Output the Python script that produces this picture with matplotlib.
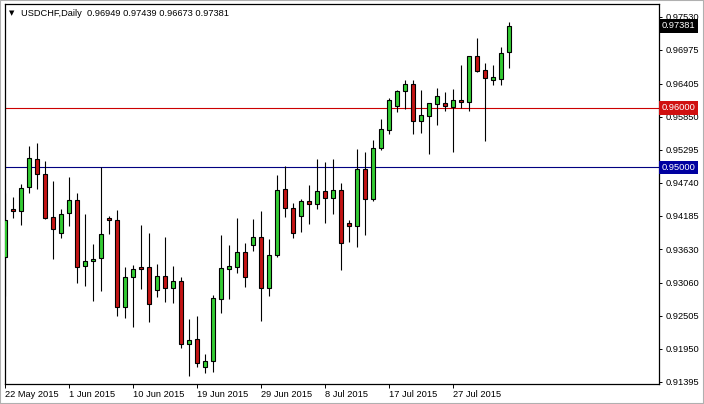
import matplotlib
matplotlib.use("Agg")
import matplotlib.pyplot as plt
from matplotlib.patches import Rectangle
import matplotlib.transforms as mtransforms

plt.rcParams['font.family'] = ['Liberation Sans', 'DejaVu Sans']

symbol = "USDCHF,Daily"

opens = [0.93496, 0.94302, 0.94269, 0.94672, 0.95143, 0.94891, 0.94168, 0.93899, 0.94235, 0.94454,
         0.93344, 0.93429, 0.93479, 0.94151, 0.94118, 0.92655, 0.93160, 0.93320, 0.93328, 0.92941,
         0.93176, 0.92975, 0.93092, 0.92034, 0.92118, 0.91647, 0.91748, 0.92790, 0.93294, 0.93328,
         0.93580, 0.93697, 0.93832, 0.92975, 0.93529, 0.94639, 0.94319, 0.94185, 0.94437, 0.94387,
         0.94605, 0.94487, 0.94622, 0.94067, 0.94017, 0.94975, 0.94471, 0.95328, 0.95630, 0.96034,
         0.96286, 0.96403, 0.95782, 0.95866, 0.96067, 0.96084, 0.96017, 0.96134, 0.96101, 0.96874,
         0.96639, 0.96471, 0.96487, 0.96949]

highs = [0.94571, 0.94504, 0.94723, 0.95361, 0.95412, 0.95109, 0.94773, 0.94302, 0.94840, 0.94571,
         0.94218, 0.93714, 0.95000, 0.94185, 0.94286, 0.93328, 0.93361, 0.94034, 0.93899, 0.93378,
         0.93832, 0.93344, 0.93160, 0.92454, 0.92504, 0.91865, 0.92857, 0.93866, 0.93697, 0.94151,
         0.93731, 0.94134, 0.94269, 0.93798, 0.94874, 0.95025, 0.94403, 0.94471, 0.94706, 0.95143,
         0.95092, 0.95143, 0.94739, 0.94118, 0.95311, 0.95260, 0.95462, 0.95815, 0.96168, 0.96303,
         0.96471, 0.96471, 0.96303, 0.96084, 0.96336, 0.96269, 0.96319, 0.96723, 0.96874, 0.97176,
         0.96756, 0.96723, 0.97025, 0.97439]

lows = [0.92840, 0.94151, 0.94034, 0.94571, 0.94639, 0.94134, 0.93462, 0.93815, 0.94017, 0.93059,
        0.93008, 0.92756, 0.92924, 0.93882, 0.92504, 0.92471, 0.92319, 0.92958, 0.92403, 0.92823,
        0.92739, 0.92723, 0.91966, 0.91496, 0.91647, 0.91546, 0.91563, 0.92555, 0.92790, 0.93227,
        0.92992, 0.93597, 0.92420, 0.92840, 0.93496, 0.94168, 0.93815, 0.93916, 0.94050, 0.94302,
        0.94067, 0.94218, 0.93277, 0.93748, 0.93664, 0.93866, 0.94437, 0.95294, 0.95563, 0.95933,
        0.95983, 0.95563, 0.95580, 0.95227, 0.95714, 0.95950, 0.95260, 0.96000, 0.95950, 0.96605,
        0.95445, 0.96387, 0.96387, 0.96673]

closes = [0.94118, 0.94269, 0.94655, 0.95160, 0.94891, 0.94151, 0.93966, 0.94218, 0.94454, 0.93328,
          0.93429, 0.93462, 0.93882, 0.94118, 0.92655, 0.93160, 0.93294, 0.93300, 0.92706, 0.93176,
          0.92975, 0.93092, 0.92034, 0.92101, 0.91714, 0.91748, 0.92807, 0.93311, 0.93344, 0.93580,
          0.93160, 0.93832, 0.92975, 0.93529, 0.94622, 0.94319, 0.93899, 0.94437, 0.94387, 0.94605,
          0.94487, 0.94622, 0.93731, 0.94017, 0.94975, 0.94471, 0.95328, 0.95647, 0.96134, 0.96286,
          0.96403, 0.95782, 0.95882, 0.96084, 0.96202, 0.96034, 0.96134, 0.96101, 0.96874, 0.96622,
          0.96504, 0.96521, 0.96924, 0.97381]

date_ticks = [0, 8, 16, 24, 32, 40, 48, 56]
date_labels = ["22 May 2015", "1 Jun 2015", "10 Jun 2015", "19 Jun 2015",
               "29 Jun 2015", "8 Jul 2015", "17 Jul 2015", "27 Jul 2015"]

price_ticks = [0.97530, 0.96975, 0.96405, 0.95850, 0.95295, 0.94740,
               0.94185, 0.93630, 0.93060, 0.92505, 0.91950, 0.91395]

level_red = 0.96000
level_blue = 0.95000

GREEN = "#33cc33"
RED = "#c41414"
FS = 6.7

fig = plt.figure(figsize=(7.04, 4.04), dpi=100)
fig.patch.set_facecolor("white")
ax = fig.add_axes([4.5 / 704, 20 / 404, 654.5 / 704, 380 / 404])

xs = list(range(len(opens)))

# wicks
ax.vlines(xs, lows, highs, colors="black", linewidth=0.8, zorder=3)

# bodies
for i in xs:
    o, c = opens[i], closes[i]
    col = GREEN if c >= o else RED
    bottom = min(o, c)
    h = max(abs(c - o), 0.00006)
    ax.bar(i, h, bottom=bottom, width=0.62, color=col, edgecolor="black",
           linewidth=0.8, zorder=4)

# horizontal levels
ax.axhline(level_red, color="#cc0000", linewidth=0.8, zorder=2)
ax.axhline(level_blue, color="#000080", linewidth=0.8, zorder=2)

ax.set_xlim(-0.06, 81.75)
ax.set_ylim(0.91361, 0.97748)

ax.yaxis.tick_right()
ax.set_yticks(price_ticks)
ax.set_yticklabels(["%.5f" % p for p in price_ticks])
ax.tick_params(axis="y", length=2.5, width=0.7, pad=2, labelsize=FS, colors="black")

ax.set_xticks(date_ticks)
ax.set_xticklabels(date_labels, ha="left")
ax.tick_params(axis="x", length=3, width=0.7, pad=1.5, labelsize=FS, colors="black")

for s in ax.spines.values():
    s.set_color("black")
    s.set_linewidth(0.9)

# price boxes on the right
trans = mtransforms.blended_transform_factory(ax.transAxes, ax.transData)
boxes = [(closes[-1], "black"), (level_red, "#d01010"), (level_blue, "#0000a0")]
for val, fc in boxes:
    ax.text(1.004, val, "%.5f" % val, transform=trans, ha="left", va="center",
            fontsize=FS, color="white", clip_on=False, zorder=10,
            bbox=dict(boxstyle="square,pad=0.25", fc=fc, ec="none"))

# title in the corner
fig.text(12 / 704, 1 - 13 / 404, "\u25bc", fontsize=5, ha="center", va="center",
         family="DejaVu Sans")
fig.text(21 / 704, 1 - 13 / 404,
         "%s  %.5f %.5f %.5f %.5f" % (symbol, opens[-1], highs[-1], lows[-1], closes[-1]),
         fontsize=FS, ha="left", va="center")

# window border
fig.patches.append(Rectangle((0, 0), 1, 1, transform=fig.transFigure, fill=False,
                             edgecolor="#b0b0b0", linewidth=1.5))

fig.savefig("out.png", dpi=100)
